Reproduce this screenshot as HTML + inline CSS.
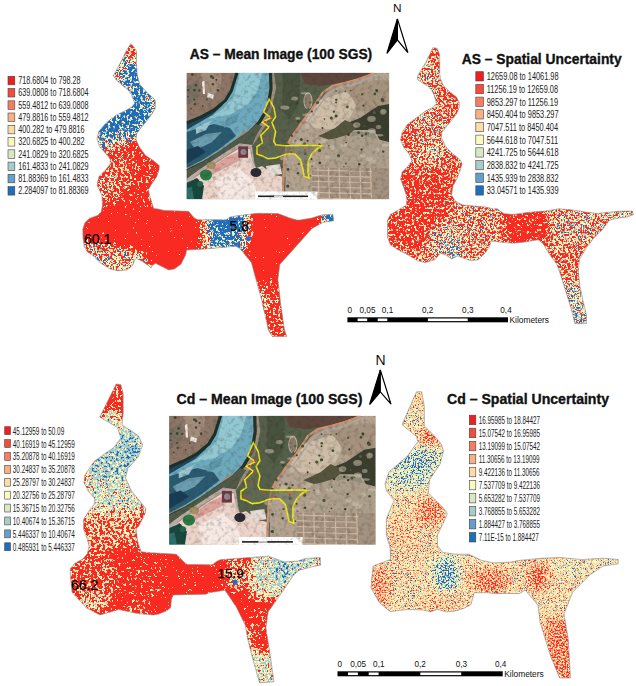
<!DOCTYPE html>
<html><head><meta charset="utf-8"><style>
html,body{margin:0;padding:0;background:#fff;width:636px;height:686px;overflow:hidden}
svg{display:block}
text{font-family:"Liberation Sans",sans-serif}
</style></head><body>
<svg width="636" height="686" viewBox="0 0 636 686">
<defs>
<g id="sat"><rect x="0" y="0" width="203" height="127" fill="#a08f7c"/><path d="M0.0,0.0 L51.5,0.0 L44.8,18.1 L39.1,27.5 L27.8,36.9 L13.7,44.5 L0.0,50.7 Z" fill="#8e7666"/><path d="M13.5,0.2 L35.5,0.2 L33.5,17.2 L21.5,25.2 Z" fill="#a48c7a"/><path d="M0.0,13.2 L11.5,7.2 L13.5,23.2 L3.5,31.2 L0.0,31.2 Z" fill="#7a7062"/><path d="M15.5,9.2 L18.0,7.7 L18.5,21.2 L16.5,21.2 Z" fill="#f2f0ee"/><path d="M21.5,20.2 L27.5,22.2 L26.5,26.2 L20.5,24.2 Z" fill="#e8e8e4"/><path d="M50.5,0.0 L44.8,18.1 L39.1,27.5 L27.8,36.9 L13.7,44.5 L0.0,50.2 L0.0,95.2 L15.9,88.2 L32.2,78.5 L48.5,67.0 L57.5,58.2 L61.6,58.1 L71.5,48.2 L79.6,35.2 L82.9,15.6 L82.3,0.0 Z" fill="#6eaabd"/><path d="M53.5,0.0 L47.5,23.2 L37.5,35.2 L21.5,46.2 L45.5,41.2 L61.5,31.2 L71.5,17.2 L75.5,0.0 Z" fill="#92c8d2"/><path d="M0.0,50.2 L13.7,44.5 L27.8,36.9 L39.1,27.5 L42.5,23.2 L35.5,33.2 L25.5,42.2 L13.5,49.2 L0.0,57.2 Z" fill="#1e4660"/><path d="M0.0,59.2 L13.5,55.2 L27.5,51.2 L43.5,55.2 L49.5,63.2 L31.5,77.2 L15.9,87.2 L0.0,95.2 Z" fill="#2a5a70"/><path d="M3.5,69.2 L19.5,61.2 L35.5,59.2 L25.5,69.2 L9.5,77.2 Z" fill="#6a9eb0"/><path d="M0.0,77.2 L11.5,73.2 L19.5,79.2 L0.0,91.2 Z" fill="#183c54"/><path d="M9.5,55.2 L25.5,47.2 L19.5,57.2 L9.5,61.2 Z" fill="#9cc8d2"/><path d="M39.5,47.2 L53.5,39.2 L49.5,49.2 L37.5,55.2 Z" fill="#5e96aa"/><path d="M50.5,0 L44.80000000000001,18.10000000000001 L39.099999999999994,27.5 L27.80000000000001,36.900000000000006 L13.699999999999989,44.5 L0,50.2" fill="none" stroke="#1a3028" stroke-width="3"/><path d="M84.0,0 L84.5,15.600000000000009 L81.30000000000001,35.2 L73.0,49.2 L62.5,60.2 L49.5,68.7 L33.0,80.2 L16.5,90.2 L0,98.2" fill="none" stroke="#22342a" stroke-width="3.2"/><path d="M0.0,97.2 L16.5,89.2 L33.0,78.2 L49.5,67.2 L62.5,58.2 L69.5,51.2 L75.5,53.2 L69.5,63.2 L65.5,73.2 L53.5,72.2 L40.4,80.2 L15.9,95.2 L0.0,106.2 Z" fill="#505a48"/><path d="M0.0,107.9 L15.9,96.4 L40.4,80.1 L53.5,71.9 L64.9,73.6 L66.5,81.7 L67.5,89.2 Z" fill="none" stroke="#bcaca6" stroke-width="3"/><path d="M0.0,111.2 L16.5,99.2 L40.5,83.2 L53.5,75.2 L63.5,76.2 L65.5,87.2 L69.5,95.2 L75.5,93.2 L88.5,102.2 L103.5,105.2 L103.5,126.4 L0.0,126.4 Z" fill="#ecd4ca"/><path d="M18.5,98.2 L40.5,84.2 L51.5,79.2 L53.5,87.2 L38.5,95.2 L23.5,103.2 Z" fill="#dca29c"/><path d="M28.5,107.2 L53.5,95.2 L65.5,107.2 L73.5,126.4 L33.5,126.4 Z" fill="#f6e8e2"/><path d="M51.8,73.6 L61.6,73.6 L61.6,85.0 L51.8,85.0 Z" fill="#6a3a42"/><ellipse cx="57.0" cy="79.2" rx="3" ry="3" fill="#9a8a90"/><ellipse cx="69.5" cy="99.7" rx="5.5" ry="4.5" fill="#2a2a36"/><ellipse cx="24.80000000000001" cy="92.7" rx="4.5" ry="3.5" fill="#a09062"/><path d="M0.0,110.2 L10.5,105.2 L17.5,113.2 L15.5,126.4 L0.0,126.4 Z" fill="#17483e"/><ellipse cx="19.5" cy="102.2" rx="6" ry="5.5" fill="#2a7a44"/><ellipse cx="13.5" cy="111.2" rx="3" ry="3" fill="#24664c"/><path d="M0.0,115.2 L5.5,114.2 L7.5,126.4 L0.0,126.4 Z" fill="#2c6e6a"/><path d="M87.5,0.0 L187.5,0.0 L145.5,13.2 L125.5,36.2 L113.5,51.2 L104.5,64.2 L99.5,74.2 L96.5,92.2 L95.5,126.4 L103.5,126.4 L103.5,105.2 L88.5,102.2 L75.5,93.2 L69.5,95.2 L67.5,87.2 L65.5,73.2 L71.5,65.2 L79.5,52.2 L85.5,35.2 L89.5,15.2 Z" fill="#55604a"/><path d="M96.5,0.0 L113.5,0.0 L113.5,27.2 L103.5,47.2 L95.5,37.2 Z" fill="#48523e"/><path d="M113.5,0.0 L187.5,0.0 L158.5,9.2 L135.5,13.2 L118.5,11.2 Z" fill="#5e463c"/><ellipse cx="121.5" cy="28.200000000000003" rx="4" ry="8" fill="#8a7a68" stroke="#c8b4a0" stroke-width="1"/><path d="M191.5,0.0 L202.7,0.0 L202.7,126.4 L98.5,126.4 L99.5,87.2 L105.5,67.2 L115.5,53.2 L127.5,37.2 L139.5,20.2 L153.5,13.2 L173.5,7.2 Z" fill="#b2a28e"/><path d="M133.5,27.2 L158.5,19.2 L173.5,23.2 L163.5,45.2 L148.5,57.2 L128.5,55.2 L118.5,47.2 Z" fill="#cdbca6"/><path d="M158.5,15.2 L188.5,7.2 L202.7,7.2 L202.7,39.2 L185.5,47.2 L173.5,37.2 Z" fill="#a6937e"/><path d="M153.5,53.2 L173.5,45.2 L191.5,33.2 L202.7,31.2 L202.7,73.2 L194.5,69.2 L187.5,57.2 L169.5,57.2 Z" fill="#3a3e2e"/><path d="M165.5,59.2 L187.5,59.2 L193.5,71.2 L197.5,97.2 L163.5,97.2 Z" fill="#928e7c"/><path d="M131.5,63.2 L148.5,55.2 L158.5,47.2 L171.5,53.2 L163.5,61.2 L143.5,67.2 Z" fill="#55553e"/><path d="M138.5,67.2 L173.5,62.2 L202.7,69.2 L202.7,95.2 L143.5,95.2 Z" fill="#ad9f8c"/><path d="M188.5,0 L171.8,6.700000000000003 L145.7,13.200000000000003 L136.39999999999998,19.700000000000003 L125.19999999999999,36.5 L114.0,51.400000000000006 L104.69999999999999,64.50000000000001 L100.0,73.8 L97.19999999999999,92.39999999999999 L96.30000000000001,127.2" fill="none" stroke="#cf9272" stroke-width="2.2"/><path d="M193.5,0 L175.5,9.700000000000003 L149.5,16.200000000000003 L140.0,22.700000000000003 L128.5,39.2 L117.5,54.2 L108.5,67.2 L103.5,77.2 L101.0,94.2 L100.0,127.2" fill="none" stroke="#a9a7a5" stroke-width="1.3"/><circle cx="164.1" cy="17.8" r="0.9" fill="#4a5838"/><circle cx="110.1" cy="26.5" r="1.4" fill="#3e4a30"/><circle cx="158.8" cy="18.6" r="0.8" fill="#4a5838"/><circle cx="149.6" cy="18.0" r="0.9" fill="#56603e"/><circle cx="118.8" cy="81.0" r="1.4" fill="#3e4a30"/><circle cx="177.0" cy="32.9" r="1.1" fill="#34402a"/><circle cx="111.8" cy="122.2" r="1.0" fill="#3e4a30"/><circle cx="136.0" cy="55.2" r="1.0" fill="#34402a"/><circle cx="200.1" cy="57.4" r="1.2" fill="#34402a"/><circle cx="157.4" cy="93.9" r="0.7" fill="#4a5838"/><circle cx="178.5" cy="125.3" r="1.5" fill="#56603e"/><circle cx="125.0" cy="86.2" r="1.0" fill="#34402a"/><circle cx="133.4" cy="90.1" r="1.3" fill="#3e4a30"/><circle cx="160.8" cy="34.2" r="1.4" fill="#4a5838"/><circle cx="144.9" cy="45.2" r="1.5" fill="#4a5838"/><circle cx="168.9" cy="109.4" r="0.9" fill="#3e4a30"/><circle cx="181.9" cy="59.9" r="0.8" fill="#34402a"/><circle cx="118.0" cy="70.9" r="1.5" fill="#56603e"/><circle cx="110.4" cy="30.6" r="1.4" fill="#34402a"/><circle cx="175.7" cy="63.0" r="1.2" fill="#34402a"/><circle cx="118.7" cy="126.7" r="1.2" fill="#3e4a30"/><circle cx="112.3" cy="91.2" r="1.2" fill="#56603e"/><circle cx="172.8" cy="91.4" r="1.2" fill="#34402a"/><circle cx="178.0" cy="53.1" r="1.0" fill="#4a5838"/><circle cx="144.0" cy="121.8" r="0.9" fill="#4a5838"/><circle cx="149.8" cy="26.9" r="1.3" fill="#4a5838"/><circle cx="111.5" cy="100.4" r="1.2" fill="#3e4a30"/><circle cx="159.7" cy="69.7" r="0.8" fill="#34402a"/><circle cx="101.3" cy="113.3" r="1.6" fill="#3e4a30"/><circle cx="174.0" cy="106.4" r="1.2" fill="#4a5838"/><circle cx="108.9" cy="68.2" r="1.2" fill="#34402a"/><circle cx="152.0" cy="82.9" r="1.6" fill="#4a5838"/><circle cx="172.0" cy="59.7" r="1.3" fill="#34402a"/><circle cx="142.3" cy="73.0" r="0.8" fill="#4a5838"/><circle cx="101.9" cy="17.4" r="1.2" fill="#4a5838"/><circle cx="95.8" cy="94.3" r="0.8" fill="#3e4a30"/><circle cx="120.7" cy="89.9" r="0.9" fill="#4a5838"/><circle cx="121.2" cy="68.0" r="1.1" fill="#3e4a30"/><circle cx="105.5" cy="63.3" r="1.1" fill="#56603e"/><circle cx="188.3" cy="21.1" r="1.3" fill="#3e4a30"/><circle cx="101.5" cy="96.6" r="1.4" fill="#3e4a30"/><circle cx="121.9" cy="36.3" r="1.1" fill="#56603e"/><circle cx="114.8" cy="66.8" r="1.5" fill="#3e4a30"/><circle cx="100.5" cy="126.9" r="1.5" fill="#3e4a30"/><circle cx="147.4" cy="38.9" r="1.1" fill="#3e4a30"/><circle cx="112.8" cy="15.2" r="1.1" fill="#56603e"/><circle cx="125.8" cy="93.0" r="1.4" fill="#56603e"/><circle cx="111.7" cy="48.2" r="1.6" fill="#3e4a30"/><circle cx="175.8" cy="21.4" r="1.2" fill="#4a5838"/><circle cx="101.1" cy="71.9" r="1.5" fill="#3e4a30"/><circle cx="159.3" cy="90.6" r="0.9" fill="#3e4a30"/><circle cx="196.7" cy="78.8" r="1.2" fill="#3e4a30"/><circle cx="161.9" cy="62.0" r="1.2" fill="#34402a"/><circle cx="195.9" cy="37.9" r="1.3" fill="#4a5838"/><circle cx="123.7" cy="29.7" r="1.3" fill="#56603e"/><circle cx="144.5" cy="126.8" r="0.8" fill="#4a5838"/><circle cx="149.6" cy="29.8" r="1.0" fill="#3e4a30"/><circle cx="190.0" cy="56.4" r="0.8" fill="#34402a"/><circle cx="161.1" cy="125.6" r="0.7" fill="#34402a"/><circle cx="195.6" cy="26.6" r="1.5" fill="#34402a"/><circle cx="107.5" cy="27.0" r="1.2" fill="#34402a"/><circle cx="125.4" cy="38.6" r="1.0" fill="#34402a"/><circle cx="149.6" cy="43.1" r="1.5" fill="#3e4a30"/><circle cx="105.0" cy="62.4" r="0.9" fill="#3e4a30"/><circle cx="131.0" cy="29.7" r="1.6" fill="#4a5838"/><circle cx="175.1" cy="76.8" r="1.1" fill="#3e4a30"/><circle cx="107.1" cy="120.8" r="1.3" fill="#4a5838"/><circle cx="111.0" cy="29.3" r="1.0" fill="#3e4a30"/><circle cx="192.1" cy="38.5" r="0.9" fill="#3e4a30"/><circle cx="133.2" cy="77.7" r="1.5" fill="#4a5838"/><circle cx="195.0" cy="41.5" r="0.8" fill="#4a5838"/><circle cx="190.2" cy="17.8" r="1.4" fill="#34402a"/><circle cx="179.5" cy="61.1" r="1.3" fill="#4a5838"/><circle cx="123.8" cy="103.2" r="0.8" fill="#3e4a30"/><circle cx="187.7" cy="39.9" r="1.4" fill="#56603e"/><circle cx="132.8" cy="106.9" r="0.9" fill="#4a5838"/><circle cx="138.0" cy="46.2" r="0.8" fill="#34402a"/><circle cx="132.9" cy="72.1" r="1.3" fill="#34402a"/><circle cx="196.4" cy="27.9" r="1.6" fill="#4a5838"/><circle cx="1.5" cy="23.9" r="0.9" fill="#3a4a30"/><circle cx="31.5" cy="17.5" r="1.4" fill="#3a4a30"/><circle cx="4.6" cy="36.0" r="0.8" fill="#3a4a30"/><circle cx="1.8" cy="17.4" r="1.1" fill="#3a4a30"/><circle cx="7.9" cy="17.3" r="1.4" fill="#3a4a30"/><circle cx="26.5" cy="5.0" r="1.3" fill="#3a4a30"/><circle cx="20.3" cy="26.7" r="0.9" fill="#3a4a30"/><circle cx="7.7" cy="26.6" r="1.0" fill="#3a4a30"/><circle cx="29.9" cy="7.0" r="1.1" fill="#3a4a30"/><circle cx="16.2" cy="33.3" r="0.9" fill="#3a4a30"/><circle cx="8.4" cy="31.4" r="1.1" fill="#3a4a30"/><circle cx="12.9" cy="17.7" r="1.2" fill="#3a4a30"/><circle cx="26.4" cy="11.4" r="1.2" fill="#3a4a30"/><circle cx="24.8" cy="3.7" r="1.4" fill="#3a4a30"/><circle cx="9.4" cy="12.4" r="1.3" fill="#3a4a30"/><circle cx="5.9" cy="1.8" r="1.4" fill="#3a4a30"/><ellipse cx="157.2" cy="72.5" rx="3.2" ry="1.8" fill="#cdbfae" opacity="0.55"/><ellipse cx="110.9" cy="70.0" rx="4.7" ry="2.7" fill="#cdbfae" opacity="0.55"/><ellipse cx="190.6" cy="77.3" rx="2.7" ry="2.6" fill="#cdbfae" opacity="0.55"/><ellipse cx="170.2" cy="52.2" rx="3.7" ry="2.8" fill="#cdbfae" opacity="0.55"/><ellipse cx="108.1" cy="25.7" rx="3.4" ry="2.1" fill="#cdbfae" opacity="0.55"/><ellipse cx="155.4" cy="40.4" rx="4.3" ry="1.9" fill="#cdbfae" opacity="0.55"/><ellipse cx="183.0" cy="86.4" rx="3.3" ry="2.8" fill="#cdbfae" opacity="0.55"/><ellipse cx="143.2" cy="27.7" rx="4.6" ry="1.9" fill="#cdbfae" opacity="0.55"/><ellipse cx="176.2" cy="82.2" rx="2.8" ry="2.6" fill="#cdbfae" opacity="0.55"/><ellipse cx="147.3" cy="34.1" rx="3.3" ry="2.4" fill="#cdbfae" opacity="0.55"/><ellipse cx="120.3" cy="41.9" rx="4.7" ry="1.2" fill="#cdbfae" opacity="0.55"/><ellipse cx="111.3" cy="45.6" rx="2.5" ry="1.4" fill="#cdbfae" opacity="0.55"/><ellipse cx="139.8" cy="41.5" rx="3.4" ry="1.1" fill="#cdbfae" opacity="0.55"/><ellipse cx="185.0" cy="46.2" rx="4.3" ry="2.9" fill="#cdbfae" opacity="0.55"/><ellipse cx="97.1" cy="85.5" rx="3.7" ry="2.0" fill="#cdbfae" opacity="0.55"/><ellipse cx="196.8" cy="38.9" rx="3.2" ry="2.8" fill="#cdbfae" opacity="0.55"/><ellipse cx="185.3" cy="58.1" rx="4.2" ry="2.6" fill="#cdbfae" opacity="0.55"/><ellipse cx="192.0" cy="54.1" rx="2.8" ry="2.0" fill="#cdbfae" opacity="0.55"/><ellipse cx="137.0" cy="68.5" rx="4.4" ry="2.4" fill="#cdbfae" opacity="0.55"/><ellipse cx="185.8" cy="88.6" rx="4.9" ry="2.1" fill="#cdbfae" opacity="0.55"/><ellipse cx="192.9" cy="62.4" rx="4.0" ry="1.2" fill="#cdbfae" opacity="0.55"/><ellipse cx="141.3" cy="84.3" rx="2.5" ry="1.5" fill="#cdbfae" opacity="0.55"/><ellipse cx="130.4" cy="51.4" rx="3.0" ry="2.8" fill="#cdbfae" opacity="0.55"/><ellipse cx="125.1" cy="91.1" rx="3.3" ry="2.7" fill="#cdbfae" opacity="0.55"/><ellipse cx="145.8" cy="74.9" rx="2.2" ry="2.9" fill="#cdbfae" opacity="0.55"/><ellipse cx="119.2" cy="20.5" rx="4.9" ry="1.1" fill="#cdbfae" opacity="0.55"/><ellipse cx="98.4" cy="34.8" rx="4.5" ry="2.2" fill="#cdbfae" opacity="0.55"/><ellipse cx="120.8" cy="52.9" rx="2.3" ry="2.9" fill="#cdbfae" opacity="0.55"/><ellipse cx="145.2" cy="35.5" rx="3.1" ry="2.2" fill="#cdbfae" opacity="0.55"/><ellipse cx="199.1" cy="72.5" rx="4.3" ry="1.3" fill="#cdbfae" opacity="0.55"/><path d="M125.5,95.2 L202.7,95.2 L202.7,126.4 L125.5,126.4 Z" fill="#a49280"/><path d="M125.5,97.2 L185.5,98.7 M125.5,102.8 L185.5,104.3 M125.5,108.4 L185.5,109.9 M125.5,114.0 L185.5,115.5 M125.5,119.6 L185.5,121.1 M125.5,125.2 L185.5,126.7 M131.5,95.2 L132.5,127 M142.0,95.2 L143.0,127 M152.5,95.2 L153.5,127 M163.0,95.2 L164.0,127 M173.5,95.2 L174.5,127 M184.0,95.2 L185.0,127" stroke="#d2baa4" stroke-width="1.1" fill="none"/><path d="M79.5,93.2 L93.5,91.2 L95.5,101.2 L81.5,103.2 Z" fill="#e6dcd6"/><path d="M82.6,26.3 L87.3,34.7 L89.1,44.0 L85.4,49.6 L89.1,58.9 L87.3,68.3 L89.1,72.0 L98.5,72.9 L115.9,72.8 L132.6,72.8 L136.0,73.4 L130.8,75.6 L125.2,81.2 L121.5,88.7 L121.5,99.9 L122.4,105.1 L117.7,103.6 L115.9,94.3 L114.0,86.8 L108.4,81.2 L101.0,81.2 L96.6,82.3 L89.1,85.1 L81.7,86.0 L76.0,83.2 L70.5,81.4 L70.5,73.9 L76.0,70.2 L74.2,62.7 L82.6,54.3 L76.0,49.6 L84.5,44.9 L77.0,39.3 Z" fill="#65715a" fill-opacity="0.6" stroke="#f0e61c" stroke-width="1.5"/><circle cx="81.5" cy="35.2" r="1.1" fill="#e53030"/><circle cx="84.5" cy="44.2" r="1.1" fill="#e53030"/><circle cx="78.5" cy="49.2" r="1.1" fill="#e53030"/><circle cx="83.5" cy="55.2" r="1.1" fill="#e53030"/><circle cx="80.5" cy="65.2" r="1.1" fill="#e53030"/><circle cx="93.5" cy="76.2" r="1.1" fill="#e53030"/><circle cx="104.5" cy="79.2" r="1.1" fill="#e53030"/><circle cx="118.5" cy="77.2" r="1.1" fill="#e53030"/><circle cx="75.5" cy="79.2" r="1.1" fill="#e53030"/><rect x="68.5" y="118.7" width="62.5" height="8" fill="#ffffff"/><rect x="71.5" y="122.7" width="50" height="1.6" fill="#222"/><rect x="87.5" y="122.7" width="9" height="1.6" fill="#ddd"/></g>
<filter id="satn" x="0" y="0" width="100%" height="100%" color-interpolation-filters="sRGB">
<feGaussianBlur in="SourceGraphic" stdDeviation="0.7" result="bl"/>
<feTurbulence type="fractalNoise" baseFrequency="0.23" numOctaves="3" seed="7" result="n"/>
<feColorMatrix in="n" type="matrix" values="0 0 0 0 0.2  0 0 0 0 0.17  0 0 0 0 0.14  0.7 0 0 0 -0.33" result="dk"/>
<feComposite in="dk" in2="bl" operator="in" result="dk2"/>
<feMerge><feMergeNode in="bl"/><feMergeNode in="dk2"/></feMerge>
</filter>
<clipPath id="satclip"><rect x="0" y="0" width="202.7" height="126.4"/></clipPath>
<clipPath id="cTL"><path d="M130.5,43.7 L133.4,46.2 L136.5,51.2 L136.5,63.2 L137.2,74.5 L139.7,84.5 L146.6,92.1 L152.9,97.7 L155.4,100.9 L155.4,108.4 L152.9,112.5 L147.9,119.5 L141.6,127.0 L136.6,133.9 L136.0,139.6 L139.1,146.5 L145.4,155.3 L152.9,160.3 L159.2,165.4 L159.2,169.2 L156.7,176.7 L151.0,185.0 L148.4,190.0 L150.3,197.6 L153.6,208.5 L158.3,209.1 L164.0,210.4 L188.5,211.3 L194.2,217.9 L197.9,219.8 L226.2,219.8 L230.0,217.0 L235.7,216.0 L254.7,213.6 L259.0,213.3 L278.0,213.6 L290.6,218.3 L296.8,220.0 L300.0,220.0 L312.0,218.0 L321.4,215.0 L332.8,214.2 L333.7,220.8 L323.3,222.3 L312.0,228.4 L296.8,245.5 L279.8,264.4 L277.9,279.5 L280.7,304.0 L284.5,330.0 L286.9,336.4 L272.2,336.4 L268.4,330.0 L265.6,317.4 L260.8,296.6 L255.0,275.8 L251.4,262.5 L239.4,248.1 L235.7,246.2 L205.5,249.0 L186.6,250.0 L185.7,254.7 L180.9,264.2 L174.3,269.0 L168.7,269.9 L163.0,267.1 L155.5,263.3 L152.6,265.2 L150.8,268.0 L147.9,265.2 L142.3,261.4 L136.6,258.6 L134.7,259.5 L132.8,265.2 L127.2,269.9 L117.7,270.8 L110.2,269.0 L100.8,263.3 L93.2,255.8 L87.5,252.0 L84.3,246.7 L83.0,237.9 L82.8,229.1 L84.9,222.8 L89.3,218.4 L98.1,215.2 L101.3,211.4 L102.5,205.2 L101.9,195.1 L98.1,187.5 L97.0,185.0 L98.8,176.7 L105.1,170.4 L110.2,164.1 L110.2,159.1 L105.1,152.8 L99.5,146.5 L97.0,139.0 L98.8,131.4 L106.4,122.6 L116.4,115.1 L126.5,110.0 L131.5,107.2 L134.7,103.4 L131.5,94.6 L127.7,89.6 L122.7,85.8 L116.4,80.1 L113.3,75.7 L120.2,63.2 L126.5,50.6 Z"/></clipPath>
<filter id="fTL" x="80" y="41" width="257" height="299" filterUnits="userSpaceOnUse" color-interpolation-filters="sRGB">
<feTurbulence type="fractalNoise" baseFrequency="0.37" numOctaves="3" seed="3" result="n"/>
<feColorMatrix in="n" type="matrix" values="1 0 0 0 0  1 0 0 0 0  1 0 0 0 0  0 0 0 0 1" result="nr"/>
<feComposite in="SourceGraphic" in2="nr" operator="arithmetic" k1="0" k2="1.5" k3="2.000" k4="-1.250" result="s"/>
<feColorMatrix in="s" type="matrix" values="1 0 0 0 0  1 0 0 0 0  1 0 0 0 0  0 0 0 0 1"/>
<feComponentTransfer><feFuncR type="discrete" tableValues="0.125 0.125 0.125 0.125 0.125 0.392 0.659 0.843 0.992 0.992 0.992 0.992 0.992 0.980 0.973 0.973 0.973 0.973 0.973 0.973"/><feFuncG type="discrete" tableValues="0.431 0.431 0.431 0.431 0.431 0.620 0.800 0.910 0.973 0.973 0.973 0.973 0.863 0.686 0.165 0.165 0.165 0.165 0.165 0.165"/><feFuncB type="discrete" tableValues="0.737 0.737 0.737 0.737 0.737 0.800 0.784 0.769 0.745 0.745 0.745 0.745 0.647 0.510 0.133 0.133 0.133 0.133 0.133 0.133"/></feComponentTransfer>
<feGaussianBlur stdDeviation="0.45"/>
</filter>
<filter id="bTL" x="60" y="21" width="297" height="339" filterUnits="userSpaceOnUse"><feGaussianBlur stdDeviation="4"/></filter>
<clipPath id="cTR"><path d="M432.8,47.7 L437.2,48.3 L439.7,54.6 L439.7,73.4 L440.3,78.5 L443.5,86.0 L450.4,92.3 L456.7,97.3 L459.2,102.4 L459.2,107.4 L456.7,113.7 L452.9,118.5 L447.3,125.6 L441.6,132.6 L441.6,138.3 L445.8,146.8 L452.9,153.9 L460.0,159.5 L462.1,163.8 L460.0,170.8 L457.2,177.9 L452.9,186.4 L451.5,194.9 L455.5,201.3 L463.0,205.1 L474.3,206.0 L485.7,207.0 L493.2,208.9 L496.9,208.8 L503.8,213.4 L513.0,214.5 L529.0,212.2 L545.1,211.1 L558.9,208.8 L572.6,209.9 L586.4,212.2 L597.9,213.4 L609.4,212.2 L620.9,211.1 L632.3,211.1 L633.5,214.5 L627.7,216.8 L618.6,218.0 L609.4,220.3 L602.5,229.4 L593.3,238.6 L586.4,247.8 L579.5,259.3 L578.4,270.8 L579.5,284.5 L583.0,300.6 L586.4,314.4 L586.4,323.6 L574.9,323.6 L571.5,309.8 L565.8,291.4 L560.0,273.1 L556.6,263.9 L549.7,254.7 L542.8,243.2 L538.2,239.8 L524.4,242.1 L513.0,243.2 L499.2,242.1 L491.3,240.9 L489.4,246.6 L485.7,252.3 L478.1,259.8 L470.6,260.8 L463.0,257.9 L457.4,256.0 L451.7,258.9 L446.0,255.1 L440.4,253.2 L434.7,259.8 L425.3,262.6 L417.7,260.8 L408.3,255.1 L398.9,250.4 L390.4,244.7 L387.5,237.2 L387.5,220.2 L390.4,214.5 L397.0,210.8 L406.4,205.1 L406.9,200.0 L406.2,194.9 L403.4,186.4 L400.6,179.3 L402.0,172.3 L407.6,166.6 L411.9,160.9 L409.1,153.9 L403.4,146.8 L400.6,139.7 L402.0,132.6 L407.6,124.2 L417.5,117.1 L425.2,111.2 L432.8,107.4 L436.5,103.6 L434.0,94.8 L431.5,89.8 L427.7,86.0 L421.4,82.3 L417.7,79.7 L417.7,76.0 L421.4,69.7 L426.5,60.9 L430.3,53.3 Z"/></clipPath>
<filter id="fTR" x="384" y="45" width="252" height="282" filterUnits="userSpaceOnUse" color-interpolation-filters="sRGB">
<feTurbulence type="fractalNoise" baseFrequency="0.41" numOctaves="3" seed="5" result="n"/>
<feColorMatrix in="n" type="matrix" values="1 0 0 0 0  1 0 0 0 0  1 0 0 0 0  0 0 0 0 1" result="nr"/>
<feComposite in="SourceGraphic" in2="nr" operator="arithmetic" k1="0" k2="1.0" k3="2.400" k4="-1.200" result="s"/>
<feColorMatrix in="s" type="matrix" values="1 0 0 0 0  1 0 0 0 0  1 0 0 0 0  0 0 0 0 1"/>
<feComponentTransfer><feFuncR type="discrete" tableValues="0.125 0.392 0.392 0.659 0.659 0.843 0.992 0.992 0.992 0.992 0.992 0.992 0.980 0.973 0.973 0.973 0.973 0.973 0.973 0.973"/><feFuncG type="discrete" tableValues="0.431 0.620 0.620 0.800 0.800 0.910 0.973 0.973 0.973 0.973 0.973 0.863 0.686 0.490 0.165 0.165 0.165 0.165 0.165 0.165"/><feFuncB type="discrete" tableValues="0.737 0.800 0.800 0.784 0.784 0.769 0.745 0.745 0.745 0.745 0.745 0.647 0.510 0.373 0.133 0.133 0.133 0.133 0.133 0.133"/></feComponentTransfer>
<feGaussianBlur stdDeviation="0.55"/>
</filter>
<filter id="bTR" x="364" y="25" width="292" height="322" filterUnits="userSpaceOnUse"><feGaussianBlur stdDeviation="4"/></filter>
<clipPath id="cBL"><path d="M116.2,383.9 L120.9,384.8 L123.2,393.7 L123.2,413.5 L122.0,425.2 L130.0,430.0 L138.4,435.7 L142.6,445.0 L138.4,456.7 L127.9,468.4 L125.5,478.0 L131.7,491.3 L141.1,502.6 L145.8,508.3 L144.9,514.0 L139.2,525.3 L136.4,529.1 L137.4,540.4 L141.1,551.7 L148.7,552.6 L176.2,554.2 L184.0,562.0 L187.2,564.4 L212.3,564.8 L217.0,561.2 L220.2,559.7 L252.3,557.3 L268.2,556.1 L284.0,561.8 L297.5,561.2 L305.1,558.4 L320.2,557.5 L320.7,565.0 L311.7,566.9 L299.4,570.2 L293.8,574.9 L279.5,595.9 L268.2,611.8 L265.9,627.7 L270.5,657.3 L273.9,681.8 L259.5,682.7 L252.3,657.3 L247.7,639.0 L245.5,625.5 L236.4,607.3 L227.3,593.6 L224.9,590.3 L209.2,592.7 L206.0,594.2 L173.0,595.0 L171.4,599.7 L170.7,607.6 L166.7,610.8 L158.9,613.9 L153.6,615.0 L137.5,613.6 L118.8,609.5 L100.0,615.0 L86.7,608.2 L72.0,592.2 L70.2,573.5 L70.4,568.7 L75.1,563.0 L82.6,559.2 L87.4,553.6 L89.2,546.0 L86.4,536.6 L83.6,529.1 L83.6,519.6 L88.3,512.1 L94.0,504.5 L94.9,498.9 L88.3,491.3 L84.0,482.4 L84.7,475.4 L94.0,461.4 L113.9,447.4 L120.9,438.0 L117.4,427.5 L99.8,417.0 Z"/></clipPath>
<filter id="fBL" x="67" y="381" width="256" height="305" filterUnits="userSpaceOnUse" color-interpolation-filters="sRGB">
<feTurbulence type="fractalNoise" baseFrequency="0.37" numOctaves="3" seed="8" result="n"/>
<feColorMatrix in="n" type="matrix" values="1 0 0 0 0  1 0 0 0 0  1 0 0 0 0  0 0 0 0 1" result="nr"/>
<feComposite in="SourceGraphic" in2="nr" operator="arithmetic" k1="0" k2="1.5" k3="1.680" k4="-1.090" result="s"/>
<feColorMatrix in="s" type="matrix" values="1 0 0 0 0  1 0 0 0 0  1 0 0 0 0  0 0 0 0 1"/>
<feComponentTransfer><feFuncR type="discrete" tableValues="0.125 0.392 0.659 0.659 0.659 0.659 0.659 0.659 0.843 0.992 0.992 0.992 0.992 0.992 0.980 0.973 0.973 0.973 0.973 0.973"/><feFuncG type="discrete" tableValues="0.431 0.620 0.800 0.800 0.800 0.800 0.800 0.800 0.910 0.973 0.973 0.973 0.973 0.863 0.686 0.165 0.165 0.165 0.165 0.165"/><feFuncB type="discrete" tableValues="0.737 0.800 0.784 0.784 0.784 0.784 0.784 0.784 0.769 0.745 0.745 0.745 0.745 0.647 0.510 0.133 0.133 0.133 0.133 0.133"/></feComponentTransfer>
<feGaussianBlur stdDeviation="0.45"/>
</filter>
<filter id="bBL" x="47" y="361" width="296" height="345" filterUnits="userSpaceOnUse"><feGaussianBlur stdDeviation="5"/></filter>
<clipPath id="cBR"><path d="M416.5,391.8 L421.7,391.8 L424.3,406.3 L424.3,426.0 L436.2,437.8 L441.4,444.3 L443.5,450.9 L440.1,464.0 L429.6,479.8 L428.3,492.9 L441.4,506.0 L446.7,512.0 L447.1,514.0 L442.7,524.5 L437.5,535.0 L437.5,545.5 L442.7,552.4 L455.0,554.2 L469.0,554.2 L476.0,557.7 L481.2,560.3 L493.4,562.9 L510.9,562.1 L520.0,560.3 L542.3,558.2 L559.7,557.4 L581.4,559.5 L603.0,558.2 L618.2,559.5 L618.2,563.9 L603.0,566.0 L590.0,574.7 L572.7,592.1 L564.0,613.8 L568.3,639.8 L570.5,678.0 L559.7,678.0 L551.0,657.2 L540.1,622.5 L538.0,605.1 L525.0,589.9 L520.0,593.5 L495.2,593.5 L486.4,592.7 L474.2,592.7 L472.4,599.7 L470.7,604.9 L463.7,608.4 L455.0,611.0 L446.2,611.9 L437.5,609.3 L430.5,611.9 L423.5,610.1 L407.7,609.4 L390.4,611.6 L379.5,603.0 L370.9,587.7 L373.0,566.0 L390.4,559.5 L390.2,548.0 L386.3,535.0 L386.3,519.2 L391.5,506.0 L394.1,500.8 L386.3,490.3 L385.0,483.7 L388.9,471.9 L407.3,456.2 L417.8,441.7 L416.5,436.5 L402.0,424.6 Z"/></clipPath>
<filter id="fBR" x="368" y="389" width="253" height="292" filterUnits="userSpaceOnUse" color-interpolation-filters="sRGB">
<feTurbulence type="fractalNoise" baseFrequency="0.6" numOctaves="3" seed="11" result="n"/>
<feColorMatrix in="n" type="matrix" values="1 0 0 0 0  1 0 0 0 0  1 0 0 0 0  0 0 0 0 1" result="nr"/>
<feComposite in="SourceGraphic" in2="nr" operator="arithmetic" k1="0" k2="1.0" k3="1.800" k4="-0.900" result="s"/>
<feColorMatrix in="s" type="matrix" values="1 0 0 0 0  1 0 0 0 0  1 0 0 0 0  0 0 0 0 1"/>
<feComponentTransfer><feFuncR type="discrete" tableValues="0.125 0.125 0.392 0.659 0.843 0.843 0.992 0.992 0.992 0.992 0.992 0.992 0.992 0.980 0.980 0.980 0.973 0.973 0.961 0.973"/><feFuncG type="discrete" tableValues="0.431 0.431 0.620 0.800 0.910 0.910 0.973 0.973 0.973 0.973 0.863 0.863 0.863 0.686 0.686 0.686 0.490 0.490 0.294 0.165"/><feFuncB type="discrete" tableValues="0.737 0.737 0.800 0.784 0.769 0.769 0.745 0.745 0.745 0.745 0.647 0.647 0.647 0.510 0.510 0.510 0.373 0.373 0.235 0.133"/></feComponentTransfer>
<feGaussianBlur stdDeviation="0.4"/>
</filter>
<filter id="bBR" x="348" y="369" width="293" height="332" filterUnits="userSpaceOnUse"><feGaussianBlur stdDeviation="4"/></filter>
</defs>
<rect width="636" height="686" fill="#fff"/>
<g transform="translate(186.5,72.8)" clip-path="url(#satclip)"><g filter="url(#satn)"><use href="#sat"/></g></g>
<g transform="translate(169.1,415.8) scale(1.019,1.021)" clip-path="url(#satclip)"><g filter="url(#satn)"><use href="#sat"/></g></g>
<g clip-path="url(#cTL)"><g filter="url(#fTL)"><rect x="80" y="41" width="257" height="299" fill="rgb(255,255,255)"/><g filter="url(#bTL)"><path d="M100.0,40.0 L145.0,40.0 L145.0,54.0 L100.0,54.0 Z" fill="rgb(158,158,158)"/><path d="M108.0,58.0 L140.0,58.0 L145.0,80.0 L162.0,95.0 L162.0,112.0 L150.0,122.0 L142.0,132.0 L120.0,142.0 L96.0,146.0 L95.0,125.0 L120.0,105.0 L130.0,92.0 L118.0,85.0 L108.0,72.0 Z" fill="rgb(64,64,64)"/><path d="M106.0,52.0 L126.0,48.0 L124.0,70.0 L120.0,90.0 L106.0,86.0 Z" fill="rgb(128,128,128)"/><path d="M145.0,90.0 L164.0,95.0 L164.0,118.0 L146.0,110.0 Z" fill="rgb(107,107,107)"/><path d="M92.0,138.0 L145.0,126.0 L145.0,140.0 L100.0,152.0 L92.0,152.0 Z" fill="rgb(102,102,102)"/><path d="M92.0,150.0 L125.0,150.0 L125.0,205.0 L92.0,205.0 Z" fill="rgb(173,173,173)"/><path d="M125.0,145.0 L165.0,145.0 L165.0,205.0 L125.0,205.0 Z" fill="rgb(204,204,204)"/><ellipse cx="128" cy="172" rx="6" ry="16" fill="rgb(168,168,168)"/><ellipse cx="105" cy="185" rx="8" ry="12" fill="rgb(153,153,153)"/><path d="M80.0,238.0 L145.0,250.0 L150.0,275.0 L80.0,275.0 Z" fill="rgb(140,140,140)"/><ellipse cx="150" cy="266" rx="6" ry="5" fill="rgb(166,166,166)"/><path d="M203.0,205.0 L252.0,205.0 L246.0,255.0 L203.0,255.0 Z" fill="rgb(76,76,76)"/><ellipse cx="203" cy="238" rx="5" ry="14" fill="rgb(158,158,158)"/><ellipse cx="233" cy="222" rx="12" ry="8" fill="rgb(0,0,0)"/><ellipse cx="216" cy="228" rx="6" ry="5" fill="rgb(26,26,26)"/><ellipse cx="248" cy="232" rx="5" ry="16" fill="rgb(140,140,140)"/><path d="M250.0,282.0 L292.0,282.0 L292.0,340.0 L250.0,340.0 Z" fill="rgb(184,184,184)"/><ellipse cx="262" cy="300" rx="4" ry="10" fill="rgb(115,115,115)"/><path d="M322.0,210.0 L340.0,210.0 L340.0,226.0 L322.0,226.0 Z" fill="rgb(26,26,26)"/></g></g></g><path d="M130.5,43.7 L133.4,46.2 L136.5,51.2 L136.5,63.2 L137.2,74.5 L139.7,84.5 L146.6,92.1 L152.9,97.7 L155.4,100.9 L155.4,108.4 L152.9,112.5 L147.9,119.5 L141.6,127.0 L136.6,133.9 L136.0,139.6 L139.1,146.5 L145.4,155.3 L152.9,160.3 L159.2,165.4 L159.2,169.2 L156.7,176.7 L151.0,185.0 L148.4,190.0 L150.3,197.6 L153.6,208.5 L158.3,209.1 L164.0,210.4 L188.5,211.3 L194.2,217.9 L197.9,219.8 L226.2,219.8 L230.0,217.0 L235.7,216.0 L254.7,213.6 L259.0,213.3 L278.0,213.6 L290.6,218.3 L296.8,220.0 L300.0,220.0 L312.0,218.0 L321.4,215.0 L332.8,214.2 L333.7,220.8 L323.3,222.3 L312.0,228.4 L296.8,245.5 L279.8,264.4 L277.9,279.5 L280.7,304.0 L284.5,330.0 L286.9,336.4 L272.2,336.4 L268.4,330.0 L265.6,317.4 L260.8,296.6 L255.0,275.8 L251.4,262.5 L239.4,248.1 L235.7,246.2 L205.5,249.0 L186.6,250.0 L185.7,254.7 L180.9,264.2 L174.3,269.0 L168.7,269.9 L163.0,267.1 L155.5,263.3 L152.6,265.2 L150.8,268.0 L147.9,265.2 L142.3,261.4 L136.6,258.6 L134.7,259.5 L132.8,265.2 L127.2,269.9 L117.7,270.8 L110.2,269.0 L100.8,263.3 L93.2,255.8 L87.5,252.0 L84.3,246.7 L83.0,237.9 L82.8,229.1 L84.9,222.8 L89.3,218.4 L98.1,215.2 L101.3,211.4 L102.5,205.2 L101.9,195.1 L98.1,187.5 L97.0,185.0 L98.8,176.7 L105.1,170.4 L110.2,164.1 L110.2,159.1 L105.1,152.8 L99.5,146.5 L97.0,139.0 L98.8,131.4 L106.4,122.6 L116.4,115.1 L126.5,110.0 L131.5,107.2 L134.7,103.4 L131.5,94.6 L127.7,89.6 L122.7,85.8 L116.4,80.1 L113.3,75.7 L120.2,63.2 L126.5,50.6 Z" fill="none" stroke="#8a8a8a" stroke-width="0.6"/>
<g clip-path="url(#cTR)"><g filter="url(#fTR)"><rect x="384" y="45" width="252" height="282" fill="rgb(153,153,153)"/><g filter="url(#bTR)"><ellipse cx="435" cy="55" rx="6" ry="10" fill="rgb(189,189,189)"/><ellipse cx="424" cy="74" rx="8" ry="12" fill="rgb(128,128,128)"/><ellipse cx="450" cy="100" rx="10" ry="14" fill="rgb(194,194,194)"/><ellipse cx="420" cy="115" rx="12" ry="8" fill="rgb(115,115,115)"/><ellipse cx="410" cy="140" rx="10" ry="16" fill="rgb(184,184,184)"/><ellipse cx="432" cy="150" rx="12" ry="12" fill="rgb(128,128,128)"/><ellipse cx="452" cy="160" rx="10" ry="10" fill="rgb(184,184,184)"/><path d="M385.0,170.0 L452.0,170.0 L452.0,212.0 L425.0,250.0 L385.0,250.0 Z" fill="rgb(219,219,219)"/><ellipse cx="445" cy="240" rx="18" ry="18" fill="rgb(115,115,115)"/><ellipse cx="452" cy="252" rx="8" ry="7" fill="rgb(38,38,38)"/><ellipse cx="480" cy="230" rx="15" ry="20" fill="rgb(153,153,153)"/><path d="M505.0,205.0 L546.0,205.0 L546.0,246.0 L505.0,246.0 Z" fill="rgb(255,255,255)"/><ellipse cx="572" cy="225" rx="26" ry="14" fill="rgb(128,128,128)"/><ellipse cx="618" cy="215" rx="14" ry="5" fill="rgb(102,102,102)"/><ellipse cx="566" cy="260" rx="14" ry="16" fill="rgb(173,173,173)"/><path d="M560.0,285.0 L590.0,285.0 L590.0,330.0 L560.0,330.0 Z" fill="rgb(84,84,84)"/></g></g></g><path d="M432.8,47.7 L437.2,48.3 L439.7,54.6 L439.7,73.4 L440.3,78.5 L443.5,86.0 L450.4,92.3 L456.7,97.3 L459.2,102.4 L459.2,107.4 L456.7,113.7 L452.9,118.5 L447.3,125.6 L441.6,132.6 L441.6,138.3 L445.8,146.8 L452.9,153.9 L460.0,159.5 L462.1,163.8 L460.0,170.8 L457.2,177.9 L452.9,186.4 L451.5,194.9 L455.5,201.3 L463.0,205.1 L474.3,206.0 L485.7,207.0 L493.2,208.9 L496.9,208.8 L503.8,213.4 L513.0,214.5 L529.0,212.2 L545.1,211.1 L558.9,208.8 L572.6,209.9 L586.4,212.2 L597.9,213.4 L609.4,212.2 L620.9,211.1 L632.3,211.1 L633.5,214.5 L627.7,216.8 L618.6,218.0 L609.4,220.3 L602.5,229.4 L593.3,238.6 L586.4,247.8 L579.5,259.3 L578.4,270.8 L579.5,284.5 L583.0,300.6 L586.4,314.4 L586.4,323.6 L574.9,323.6 L571.5,309.8 L565.8,291.4 L560.0,273.1 L556.6,263.9 L549.7,254.7 L542.8,243.2 L538.2,239.8 L524.4,242.1 L513.0,243.2 L499.2,242.1 L491.3,240.9 L489.4,246.6 L485.7,252.3 L478.1,259.8 L470.6,260.8 L463.0,257.9 L457.4,256.0 L451.7,258.9 L446.0,255.1 L440.4,253.2 L434.7,259.8 L425.3,262.6 L417.7,260.8 L408.3,255.1 L398.9,250.4 L390.4,244.7 L387.5,237.2 L387.5,220.2 L390.4,214.5 L397.0,210.8 L406.4,205.1 L406.9,200.0 L406.2,194.9 L403.4,186.4 L400.6,179.3 L402.0,172.3 L407.6,166.6 L411.9,160.9 L409.1,153.9 L403.4,146.8 L400.6,139.7 L402.0,132.6 L407.6,124.2 L417.5,117.1 L425.2,111.2 L432.8,107.4 L436.5,103.6 L434.0,94.8 L431.5,89.8 L427.7,86.0 L421.4,82.3 L417.7,79.7 L417.7,76.0 L421.4,69.7 L426.5,60.9 L430.3,53.3 Z" fill="none" stroke="#8a8a8a" stroke-width="0.6"/>
<g clip-path="url(#cBL)"><g filter="url(#fBL)"><rect x="67" y="381" width="256" height="305" fill="rgb(235,235,235)"/><g filter="url(#bBL)"><ellipse cx="119" cy="392" rx="6" ry="10" fill="rgb(168,168,168)"/><ellipse cx="112" cy="416" rx="12" ry="10" fill="rgb(128,128,128)"/><path d="M95.0,425.0 L145.0,425.0 L145.0,470.0 L125.0,482.0 L85.0,482.0 L85.0,462.0 Z" fill="rgb(92,92,92)"/><ellipse cx="132" cy="455" rx="5" ry="14" fill="rgb(56,56,56)"/><path d="M83.0,480.0 L147.0,480.0 L147.0,512.0 L83.0,512.0 Z" fill="rgb(115,115,115)"/><path d="M80.0,512.0 L142.0,512.0 L142.0,548.0 L80.0,548.0 Z" fill="rgb(166,166,166)"/><ellipse cx="92" cy="578" rx="30" ry="34" fill="rgb(184,184,184)"/><ellipse cx="145" cy="580" rx="22" ry="26" fill="rgb(209,209,209)"/><ellipse cx="92" cy="603" rx="18" ry="12" fill="rgb(153,153,153)"/><ellipse cx="135" cy="612" rx="14" ry="6" fill="rgb(166,166,166)"/><ellipse cx="236" cy="575" rx="12" ry="18" fill="rgb(158,158,158)"/><path d="M250.0,550.0 L325.0,550.0 L325.0,600.0 L250.0,600.0 Z" fill="rgb(115,115,115)"/><ellipse cx="283" cy="570" rx="8" ry="10" fill="rgb(64,64,64)"/><ellipse cx="300" cy="563" rx="6" ry="5" fill="rgb(76,76,76)"/><ellipse cx="262" cy="592" rx="8" ry="6" fill="rgb(140,140,140)"/><path d="M240.0,650.0 L280.0,650.0 L280.0,690.0 L240.0,690.0 Z" fill="rgb(122,122,122)"/><ellipse cx="262" cy="620" rx="14" ry="14" fill="rgb(199,199,199)"/><ellipse cx="250" cy="640" rx="6" ry="14" fill="rgb(153,153,153)"/></g></g></g><path d="M116.2,383.9 L120.9,384.8 L123.2,393.7 L123.2,413.5 L122.0,425.2 L130.0,430.0 L138.4,435.7 L142.6,445.0 L138.4,456.7 L127.9,468.4 L125.5,478.0 L131.7,491.3 L141.1,502.6 L145.8,508.3 L144.9,514.0 L139.2,525.3 L136.4,529.1 L137.4,540.4 L141.1,551.7 L148.7,552.6 L176.2,554.2 L184.0,562.0 L187.2,564.4 L212.3,564.8 L217.0,561.2 L220.2,559.7 L252.3,557.3 L268.2,556.1 L284.0,561.8 L297.5,561.2 L305.1,558.4 L320.2,557.5 L320.7,565.0 L311.7,566.9 L299.4,570.2 L293.8,574.9 L279.5,595.9 L268.2,611.8 L265.9,627.7 L270.5,657.3 L273.9,681.8 L259.5,682.7 L252.3,657.3 L247.7,639.0 L245.5,625.5 L236.4,607.3 L227.3,593.6 L224.9,590.3 L209.2,592.7 L206.0,594.2 L173.0,595.0 L171.4,599.7 L170.7,607.6 L166.7,610.8 L158.9,613.9 L153.6,615.0 L137.5,613.6 L118.8,609.5 L100.0,615.0 L86.7,608.2 L72.0,592.2 L70.2,573.5 L70.4,568.7 L75.1,563.0 L82.6,559.2 L87.4,553.6 L89.2,546.0 L86.4,536.6 L83.6,529.1 L83.6,519.6 L88.3,512.1 L94.0,504.5 L94.9,498.9 L88.3,491.3 L84.0,482.4 L84.7,475.4 L94.0,461.4 L113.9,447.4 L120.9,438.0 L117.4,427.5 L99.8,417.0 Z" fill="none" stroke="#8a8a8a" stroke-width="0.6"/>
<g clip-path="url(#cBR)"><g filter="url(#fBR)"><rect x="368" y="389" width="253" height="292" fill="rgb(133,133,133)"/><g filter="url(#bBR)"><ellipse cx="420" cy="400" rx="6" ry="10" fill="rgb(153,153,153)"/><ellipse cx="413" cy="420" rx="10" ry="8" fill="rgb(107,107,107)"/><ellipse cx="432" cy="436" rx="12" ry="9" fill="rgb(204,204,204)"/><path d="M395.0,445.0 L445.0,445.0 L440.0,470.0 L425.0,490.0 L385.0,490.0 Z" fill="rgb(76,76,76)"/><ellipse cx="418" cy="462" rx="12" ry="12" fill="rgb(56,56,56)"/><ellipse cx="410" cy="500" rx="14" ry="8" fill="rgb(128,128,128)"/><ellipse cx="430" cy="512" rx="14" ry="14" fill="rgb(199,199,199)"/><ellipse cx="400" cy="535" rx="14" ry="20" fill="rgb(158,158,158)"/><ellipse cx="380" cy="585" rx="10" ry="20" fill="rgb(194,194,194)"/><ellipse cx="446" cy="574" rx="14" ry="18" fill="rgb(51,51,51)"/><ellipse cx="412" cy="590" rx="15" ry="15" fill="rgb(128,128,128)"/><ellipse cx="490" cy="580" rx="20" ry="12" fill="rgb(199,199,199)"/><ellipse cx="495" cy="590" rx="6" ry="4" fill="rgb(242,242,242)"/><ellipse cx="538" cy="577" rx="9" ry="14" fill="rgb(224,224,224)"/><ellipse cx="575" cy="568" rx="22" ry="9" fill="rgb(107,107,107)"/><ellipse cx="610" cy="561" rx="8" ry="4" fill="rgb(76,76,76)"/><ellipse cx="556" cy="603" rx="10" ry="8" fill="rgb(128,128,128)"/><path d="M545.0,618.0 L575.0,618.0 L575.0,680.0 L545.0,680.0 Z" fill="rgb(204,204,204)"/><ellipse cx="440" cy="604" rx="22" ry="8" fill="rgb(158,158,158)"/></g></g></g><path d="M416.5,391.8 L421.7,391.8 L424.3,406.3 L424.3,426.0 L436.2,437.8 L441.4,444.3 L443.5,450.9 L440.1,464.0 L429.6,479.8 L428.3,492.9 L441.4,506.0 L446.7,512.0 L447.1,514.0 L442.7,524.5 L437.5,535.0 L437.5,545.5 L442.7,552.4 L455.0,554.2 L469.0,554.2 L476.0,557.7 L481.2,560.3 L493.4,562.9 L510.9,562.1 L520.0,560.3 L542.3,558.2 L559.7,557.4 L581.4,559.5 L603.0,558.2 L618.2,559.5 L618.2,563.9 L603.0,566.0 L590.0,574.7 L572.7,592.1 L564.0,613.8 L568.3,639.8 L570.5,678.0 L559.7,678.0 L551.0,657.2 L540.1,622.5 L538.0,605.1 L525.0,589.9 L520.0,593.5 L495.2,593.5 L486.4,592.7 L474.2,592.7 L472.4,599.7 L470.7,604.9 L463.7,608.4 L455.0,611.0 L446.2,611.9 L437.5,609.3 L430.5,611.9 L423.5,610.1 L407.7,609.4 L390.4,611.6 L379.5,603.0 L370.9,587.7 L373.0,566.0 L390.4,559.5 L390.2,548.0 L386.3,535.0 L386.3,519.2 L391.5,506.0 L394.1,500.8 L386.3,490.3 L385.0,483.7 L388.9,471.9 L407.3,456.2 L417.8,441.7 L416.5,436.5 L402.0,424.6 Z" fill="none" stroke="#8a8a8a" stroke-width="0.6"/>
<text x="84" y="243.6" font-size="14" fill="#000" stroke="#000" stroke-width="0.2">60.1</text>
<circle cx="100" cy="249.8" r="2.2" fill="none" stroke="#6a1a12" stroke-width="0.8"/>
<text x="229.6" y="231.2" font-size="14" fill="#000" stroke="#000" stroke-width="0.25">5.8</text>
<circle cx="248.5" cy="238.5" r="2.6" fill="#2a6cc0"/>
<text x="71" y="590" font-size="14" fill="#000" stroke="#000" stroke-width="0.2">66.2</text>
<circle cx="86.7" cy="594.3" r="2.2" fill="none" stroke="#6a1a12" stroke-width="0.8"/>
<text x="217.5" y="577.8" font-size="13.5" fill="#000" stroke="#000" stroke-width="0.25">15.9</text>
<circle cx="235.1" cy="582.1" r="2.6" fill="#2a6cc0"/>
<text x="189.8" y="58.5" font-size="14.6" font-weight="bold" fill="#111" stroke="#111" stroke-width="0.35" textLength="182.4" lengthAdjust="spacingAndGlyphs">AS – Mean Image (100 SGS)</text>
<text x="461.7" y="64" font-size="14.6" font-weight="bold" fill="#111" stroke="#111" stroke-width="0.35" textLength="160" lengthAdjust="spacingAndGlyphs">AS – Spatial Uncertainty</text>
<text x="176.6" y="404.2" font-size="14.6" font-weight="bold" fill="#111" stroke="#111" stroke-width="0.35" textLength="185.8" lengthAdjust="spacingAndGlyphs">Cd – Mean Image (100 SGS)</text>
<text x="447" y="403.6" font-size="14.6" font-weight="bold" fill="#111" stroke="#111" stroke-width="0.35" textLength="162" lengthAdjust="spacingAndGlyphs">Cd – Spatial Uncertainty</text>
<path d="M397.4,18.9 L386.9,53.5 L397.4,40 Z" fill="#000"/><path d="M397.4,18.9 L407.9,52.7 L397.4,40 Z" fill="#fff" stroke="#000" stroke-width="1.2" stroke-linejoin="miter"/><path d="M397.4,18.9 L386.9,53.5 L397.4,40" fill="none" stroke="#000" stroke-width="1.2"/>
<text x="397.3" y="11.8" font-size="11.8" fill="#111" text-anchor="middle">N</text>
<path d="M380.3,369.9 L369.6,404.5 L380.3,391.9 Z" fill="#000"/><path d="M380.3,369.9 L391,404.2 L380.3,391.9 Z" fill="#fff" stroke="#000" stroke-width="1.2" stroke-linejoin="miter"/><path d="M380.3,369.9 L369.6,404.5 L380.3,391.9" fill="none" stroke="#000" stroke-width="1.2"/>
<text x="380.6" y="365.4" font-size="14" fill="#111" text-anchor="middle">N</text>
<rect x="8" y="76.3" width="6.8" height="8.5" fill="#f01e1e" stroke="#444" stroke-width="0.6"/><text x="18.2" y="84.0" font-size="11" fill="#222" textLength="62.4" lengthAdjust="spacingAndGlyphs">718.6804 to 798.28</text><rect x="8" y="88.5" width="6.8" height="8.5" fill="#f54b3c" stroke="#444" stroke-width="0.6"/><text x="18.2" y="96.2" font-size="11" fill="#222" textLength="70.4" lengthAdjust="spacingAndGlyphs">639.0808 to 718.6804</text><rect x="8" y="100.8" width="6.8" height="8.5" fill="#f87d5f" stroke="#444" stroke-width="0.6"/><text x="18.2" y="108.5" font-size="11" fill="#222" textLength="70.4" lengthAdjust="spacingAndGlyphs">559.4812 to 639.0808</text><rect x="8" y="113.0" width="6.8" height="8.5" fill="#faaf82" stroke="#444" stroke-width="0.6"/><text x="18.2" y="120.8" font-size="11" fill="#222" textLength="70.4" lengthAdjust="spacingAndGlyphs">479.8816 to 559.4812</text><rect x="8" y="125.3" width="6.8" height="8.5" fill="#fddca5" stroke="#444" stroke-width="0.6"/><text x="18.2" y="133.0" font-size="11" fill="#222" textLength="66.4" lengthAdjust="spacingAndGlyphs">400.282 to 479.8816</text><rect x="8" y="137.6" width="6.8" height="8.5" fill="#fdfabe" stroke="#444" stroke-width="0.6"/><text x="18.2" y="145.2" font-size="11" fill="#222" textLength="66.4" lengthAdjust="spacingAndGlyphs">320.6825 to 400.282</text><rect x="8" y="149.8" width="6.8" height="8.5" fill="#d7e8c3" stroke="#444" stroke-width="0.6"/><text x="18.2" y="157.5" font-size="11" fill="#222" textLength="70.4" lengthAdjust="spacingAndGlyphs">241.0829 to 320.6825</text><rect x="8" y="162.1" width="6.8" height="8.5" fill="#a8cdc8" stroke="#444" stroke-width="0.6"/><text x="18.2" y="169.8" font-size="11" fill="#222" textLength="70.4" lengthAdjust="spacingAndGlyphs">161.4833 to 241.0829</text><rect x="8" y="174.3" width="6.8" height="8.5" fill="#649fcd" stroke="#444" stroke-width="0.6"/><text x="18.2" y="182.0" font-size="11" fill="#222" textLength="70.4" lengthAdjust="spacingAndGlyphs">81.88369 to 161.4833</text><rect x="8" y="186.6" width="6.8" height="8.5" fill="#1e6ebe" stroke="#444" stroke-width="0.6"/><text x="18.2" y="194.2" font-size="11" fill="#222" textLength="70.4" lengthAdjust="spacingAndGlyphs">2.284097 to 81.88369</text>
<rect x="475.8" y="71.7" width="7.7" height="9.3" fill="#f01e1e" stroke="#444" stroke-width="0.6"/><text x="486.7" y="80.3" font-size="11.4" fill="#222" textLength="71.9" lengthAdjust="spacingAndGlyphs">12659.08 to 14061.98</text><rect x="475.8" y="84.4" width="7.7" height="9.3" fill="#f54b3c" stroke="#444" stroke-width="0.6"/><text x="486.7" y="93.0" font-size="11.4" fill="#222" textLength="71.4" lengthAdjust="spacingAndGlyphs">11256.19 to 12659.08</text><rect x="475.8" y="97.1" width="7.7" height="9.3" fill="#f87d5f" stroke="#444" stroke-width="0.6"/><text x="486.7" y="105.7" font-size="11.4" fill="#222" textLength="71.4" lengthAdjust="spacingAndGlyphs">9853.297 to 11256.19</text><rect x="475.8" y="109.7" width="7.7" height="9.3" fill="#faaf82" stroke="#444" stroke-width="0.6"/><text x="486.7" y="118.3" font-size="11.4" fill="#222" textLength="71.9" lengthAdjust="spacingAndGlyphs">8450.404 to 9853.297</text><rect x="475.8" y="122.4" width="7.7" height="9.3" fill="#fddca5" stroke="#444" stroke-width="0.6"/><text x="486.7" y="131.0" font-size="11.4" fill="#222" textLength="71.4" lengthAdjust="spacingAndGlyphs">7047.511 to 8450.404</text><rect x="475.8" y="135.1" width="7.7" height="9.3" fill="#fdfabe" stroke="#444" stroke-width="0.6"/><text x="486.7" y="143.7" font-size="11.4" fill="#222" textLength="71.4" lengthAdjust="spacingAndGlyphs">5644.618 to 7047.511</text><rect x="475.8" y="147.8" width="7.7" height="9.3" fill="#d7e8c3" stroke="#444" stroke-width="0.6"/><text x="486.7" y="156.4" font-size="11.4" fill="#222" textLength="71.9" lengthAdjust="spacingAndGlyphs">4241.725 to 5644.618</text><rect x="475.8" y="160.5" width="7.7" height="9.3" fill="#a8cdc8" stroke="#444" stroke-width="0.6"/><text x="486.7" y="169.1" font-size="11.4" fill="#222" textLength="71.9" lengthAdjust="spacingAndGlyphs">2838.832 to 4241.725</text><rect x="475.8" y="173.1" width="7.7" height="9.3" fill="#649fcd" stroke="#444" stroke-width="0.6"/><text x="486.7" y="181.7" font-size="11.4" fill="#222" textLength="71.9" lengthAdjust="spacingAndGlyphs">1435.939 to 2838.832</text><rect x="475.8" y="185.8" width="7.7" height="9.3" fill="#1e6ebe" stroke="#444" stroke-width="0.6"/><text x="486.7" y="194.4" font-size="11.4" fill="#222" textLength="71.9" lengthAdjust="spacingAndGlyphs">33.04571 to 1435.939</text>
<rect x="4.7" y="426.7" width="5.8" height="7.9" fill="#f01e1e" stroke="#444" stroke-width="0.6"/><text x="12.8" y="434.6" font-size="11" fill="#222" textLength="51.4" lengthAdjust="spacingAndGlyphs">45.12959 to 50.09</text><rect x="4.7" y="439.6" width="5.8" height="7.9" fill="#f54b3c" stroke="#444" stroke-width="0.6"/><text x="12.8" y="447.5" font-size="11" fill="#222" textLength="62.0" lengthAdjust="spacingAndGlyphs">40.16919 to 45.12959</text><rect x="4.7" y="452.5" width="5.8" height="7.9" fill="#f87d5f" stroke="#444" stroke-width="0.6"/><text x="12.8" y="460.4" font-size="11" fill="#222" textLength="62.0" lengthAdjust="spacingAndGlyphs">35.20878 to 40.16919</text><rect x="4.7" y="465.4" width="5.8" height="7.9" fill="#faaf82" stroke="#444" stroke-width="0.6"/><text x="12.8" y="473.3" font-size="11" fill="#222" textLength="62.0" lengthAdjust="spacingAndGlyphs">30.24837 to 35.20878</text><rect x="4.7" y="478.3" width="5.8" height="7.9" fill="#fddca5" stroke="#444" stroke-width="0.6"/><text x="12.8" y="486.2" font-size="11" fill="#222" textLength="62.0" lengthAdjust="spacingAndGlyphs">25.28797 to 30.24837</text><rect x="4.7" y="491.2" width="5.8" height="7.9" fill="#fdfabe" stroke="#444" stroke-width="0.6"/><text x="12.8" y="499.1" font-size="11" fill="#222" textLength="62.0" lengthAdjust="spacingAndGlyphs">20.32756 to 25.28797</text><rect x="4.7" y="504.1" width="5.8" height="7.9" fill="#d7e8c3" stroke="#444" stroke-width="0.6"/><text x="12.8" y="512.0" font-size="11" fill="#222" textLength="62.0" lengthAdjust="spacingAndGlyphs">15.36715 to 20.32756</text><rect x="4.7" y="517.0" width="5.8" height="7.9" fill="#a8cdc8" stroke="#444" stroke-width="0.6"/><text x="12.8" y="524.9" font-size="11" fill="#222" textLength="62.0" lengthAdjust="spacingAndGlyphs">10.40674 to 15.36715</text><rect x="4.7" y="529.9" width="5.8" height="7.9" fill="#649fcd" stroke="#444" stroke-width="0.6"/><text x="12.8" y="537.8" font-size="11" fill="#222" textLength="62.0" lengthAdjust="spacingAndGlyphs">5.446337 to 10.40674</text><rect x="4.7" y="542.8" width="5.8" height="7.9" fill="#1e6ebe" stroke="#444" stroke-width="0.6"/><text x="12.8" y="550.7" font-size="11" fill="#222" textLength="62.0" lengthAdjust="spacingAndGlyphs">0.485931 to 5.446337</text>
<rect x="469.3" y="415.2" width="6.5" height="9.5" fill="#f01e1e" stroke="#444" stroke-width="0.6"/><text x="478.7" y="423.5" font-size="10.6" fill="#222" textLength="61.2" lengthAdjust="spacingAndGlyphs">16.95985 to 18.84427</text><rect x="469.3" y="428.2" width="6.5" height="9.5" fill="#f54b3c" stroke="#444" stroke-width="0.6"/><text x="478.7" y="436.5" font-size="10.6" fill="#222" textLength="61.2" lengthAdjust="spacingAndGlyphs">15.07542 to 16.95985</text><rect x="469.3" y="441.3" width="6.5" height="9.5" fill="#f87d5f" stroke="#444" stroke-width="0.6"/><text x="478.7" y="449.6" font-size="10.6" fill="#222" textLength="61.2" lengthAdjust="spacingAndGlyphs">13.19099 to 15.07542</text><rect x="469.3" y="454.3" width="6.5" height="9.5" fill="#faaf82" stroke="#444" stroke-width="0.6"/><text x="478.7" y="462.6" font-size="10.6" fill="#222" textLength="60.7" lengthAdjust="spacingAndGlyphs">11.30656 to 13.19099</text><rect x="469.3" y="467.3" width="6.5" height="9.5" fill="#fddca5" stroke="#444" stroke-width="0.6"/><text x="478.7" y="475.6" font-size="10.6" fill="#222" textLength="60.7" lengthAdjust="spacingAndGlyphs">9.422136 to 11.30656</text><rect x="469.3" y="480.3" width="6.5" height="9.5" fill="#fdfabe" stroke="#444" stroke-width="0.6"/><text x="478.7" y="488.6" font-size="10.6" fill="#222" textLength="61.2" lengthAdjust="spacingAndGlyphs">7.537709 to 9.422136</text><rect x="469.3" y="493.4" width="6.5" height="9.5" fill="#d7e8c3" stroke="#444" stroke-width="0.6"/><text x="478.7" y="501.7" font-size="10.6" fill="#222" textLength="61.2" lengthAdjust="spacingAndGlyphs">5.653282 to 7.537709</text><rect x="469.3" y="506.4" width="6.5" height="9.5" fill="#a8cdc8" stroke="#444" stroke-width="0.6"/><text x="478.7" y="514.7" font-size="10.6" fill="#222" textLength="61.2" lengthAdjust="spacingAndGlyphs">3.768855 to 5.653282</text><rect x="469.3" y="519.4" width="6.5" height="9.5" fill="#649fcd" stroke="#444" stroke-width="0.6"/><text x="478.7" y="527.7" font-size="10.6" fill="#222" textLength="61.2" lengthAdjust="spacingAndGlyphs">1.884427 to 3.768855</text><rect x="469.3" y="532.5" width="6.5" height="9.5" fill="#1e6ebe" stroke="#444" stroke-width="0.6"/><text x="478.7" y="540.8" font-size="10.6" fill="#222" textLength="60.0" lengthAdjust="spacingAndGlyphs">7.11E-15 to 1.884427</text>
<rect x="347.4" y="317.3" width="160.6" height="5" fill="#000"/><rect x="357.6" y="318.5" width="9.6" height="2.6" fill="#fff"/><rect x="377.7" y="318.5" width="9.6" height="2.6" fill="#fff"/><rect x="427.9" y="318.5" width="39.8" height="2.6" fill="#fff"/><text x="347.4" y="313.3" font-size="8.2" fill="#111" text-anchor="start">0</text><text x="367.5" y="313.3" font-size="8.2" fill="#111" text-anchor="middle">0,05</text><text x="387.5" y="313.3" font-size="8.2" fill="#111" text-anchor="middle">0,1</text><text x="427.7" y="313.3" font-size="8.2" fill="#111" text-anchor="middle">0,2</text><text x="467.8" y="313.3" font-size="8.2" fill="#111" text-anchor="middle">0,3</text><text x="506.0" y="313.3" font-size="8.2" fill="#111" text-anchor="middle">0,4</text><text x="509.5" y="322.5" font-size="8.4" fill="#111">Kilometers</text>
<rect x="337.5" y="671.3" width="165.2" height="5" fill="#000"/><rect x="348.0" y="672.5" width="9.9" height="2.6" fill="#fff"/><rect x="368.7" y="672.5" width="9.9" height="2.6" fill="#fff"/><rect x="420.3" y="672.5" width="40.9" height="2.6" fill="#fff"/><text x="337.5" y="667.3" font-size="8.2" fill="#111" text-anchor="start">0</text><text x="358.1" y="667.3" font-size="8.2" fill="#111" text-anchor="middle">0,05</text><text x="378.8" y="667.3" font-size="8.2" fill="#111" text-anchor="middle">0,1</text><text x="420.1" y="667.3" font-size="8.2" fill="#111" text-anchor="middle">0,2</text><text x="461.4" y="667.3" font-size="8.2" fill="#111" text-anchor="middle">0,3</text><text x="500.7" y="667.3" font-size="8.2" fill="#111" text-anchor="middle">0,4</text><text x="504.2" y="676.5" font-size="8.4" fill="#111">Kilometers</text>
</svg></body></html>
